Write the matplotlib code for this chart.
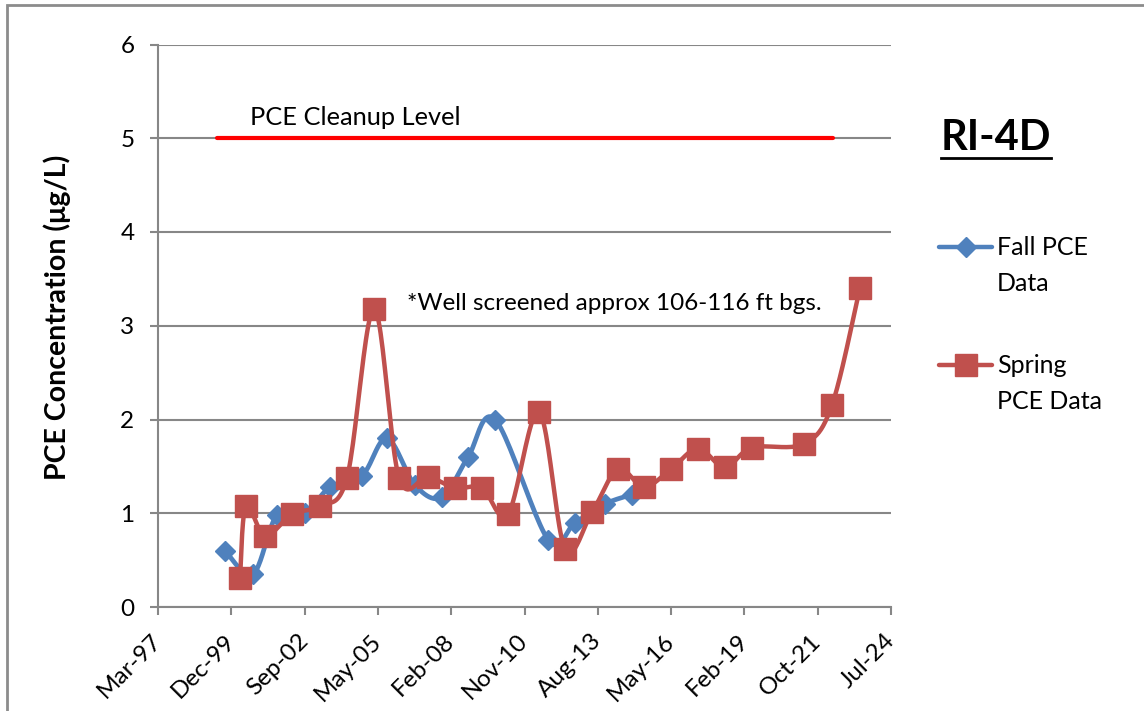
import numpy as np
import matplotlib.pyplot as plt
import matplotlib.dates as mdates
from matplotlib.lines import Line2D
from matplotlib.patches import Rectangle
from datetime import date, timedelta

plt.rcParams['font.family'] = ['Lato', 'DejaVu Sans']

# sampling results, RI-4D
fall_dates = ['1999-09-11', '2000-09-27', '2001-08-19', '2002-09-06', '2003-08-14',
              '2004-10-23', '2005-09-29', '2006-10-16', '2007-10-19', '2008-10-09',
              '2009-10-13', '2011-10-06', '2012-10-08', '2013-11-21', '2014-11-25']
fall_pce = [0.6, 0.35, 0.98, 1.0, 1.28, 1.4, 1.8, 1.3, 1.17, 1.6, 2.0, 0.72, 0.9, 1.1, 1.2]

spring_dates = ['2000-04-03', '2000-06-23', '2001-03-10', '2002-03-14', '2003-03-30',
                '2004-04-01', '2005-04-05', '2006-03-12', '2007-04-12', '2008-04-14',
                '2009-04-17', '2010-04-07', '2011-06-03', '2012-05-23', '2013-05-26',
                '2014-05-16', '2015-05-05', '2016-05-08', '2017-05-11', '2018-05-14',
                '2019-05-17', '2021-04-26', '2022-05-12', '2023-05-29']
spring_pce = [0.31, 1.08, 0.76, 0.99, 1.08, 1.38, 3.18, 1.38, 1.39, 1.27, 1.27, 0.99,
              2.08, 0.62, 1.01, 1.47, 1.28, 1.47, 1.69, 1.49, 1.70, 1.74, 2.15, 3.40]

cleanup_level = 5
cleanup_span = ['1999-05-26', '2022-05-28']

# excel-style date axis: 1000 day major unit
axis_start = date(1997, 3, 11)
axis_step = 1000
axis_n = 10

BLUE = '#4F81BD'
RED = '#C0504D'
GRID = '#878787'


def to_num(ds):
    return mdates.datestr2num(ds)


def smooth(ax, xs, ys, n=24):
    # catmull-rom through the points in screen space, like excel's smoothed line
    pts = ax.transData.transform(np.column_stack([xs, ys]))
    p = np.vstack([pts[0], pts, pts[-1]])
    out = []
    t = np.linspace(0, 1, n)[:, None]
    for i in range(1, len(p) - 2):
        p0, p1, p2, p3 = p[i - 1], p[i], p[i + 1], p[i + 2]
        c1 = p1 + (p2 - p0) / 6
        c2 = p2 - (p3 - p1) / 6
        seg = ((1 - t) ** 3) * p1 + 3 * ((1 - t) ** 2) * t * c1 + 3 * (1 - t) * t ** 2 * c2 + t ** 3 * p2
        out.append(seg if i == 1 else seg[1:])
    out = np.vstack(out)
    return ax.transData.inverted().transform(out).T


fig = plt.figure(figsize=(11.44, 7.11), dpi=100)
ax = fig.add_axes([158 / 1144, 1 - 607 / 711, (891 - 158) / 1144, (607 - 44.5) / 711])

ticks = [mdates.date2num(axis_start + timedelta(days=axis_step * k)) for k in range(axis_n + 1)]
ax.set_xlim(ticks[0], ticks[-1])
ax.set_ylim(0, 6)
ax.set_xticks(ticks)
ax.xaxis.set_major_formatter(mdates.DateFormatter('%b-%y'))
ax.set_yticks(range(0, 7))

ax.grid(axis='y', color=GRID, lw=1.5)
ax.set_axisbelow(True)
for s in ['top', 'right']:
    ax.spines[s].set_visible(False)
for s in ['left', 'bottom']:
    ax.spines[s].set_color(GRID)
    ax.spines[s].set_linewidth(1.5)
ax.tick_params(axis='both', color=GRID, width=1.5, length=6, labelsize=17.5, labelcolor='black')
ax.tick_params(axis='y', pad=11)
ax.tick_params(axis='x', pad=16)
for lab in ax.get_xticklabels():
    lab.set_rotation(45)
    lab.set_ha('right')
    lab.set_va('center')
    lab.set_rotation_mode('anchor')

ax.set_ylabel('PCE Concentration (μg/L)', fontsize=20.5, fontweight='bold')
ax.yaxis.set_label_coords(-0.119, 0.514)

# cleanup level
ax.plot(to_num(cleanup_span), [cleanup_level] * 2, color='#FF0000', lw=3, solid_capstyle='round', zorder=3)
ax.text(mdates.datestr2num('2000-08-17'), 5.1, 'PCE Cleanup Level', fontsize=18.3, va='bottom', ha='left')

fx, fy = smooth(ax, to_num(fall_dates), fall_pce)
ax.plot(fx, fy, color=BLUE, lw=3.4, zorder=4, solid_capstyle='round')
ax.plot(to_num(fall_dates), fall_pce, ls='none', marker='D', ms=10.5, color=BLUE, mec=BLUE, zorder=5)

sx, sy = smooth(ax, to_num(spring_dates), spring_pce)
ax.plot(sx, sy, color=RED, lw=3.2, zorder=6, solid_capstyle='round')
ax.plot(to_num(spring_dates), spring_pce, ls='none', marker='s', ms=15.5, color=RED, mec=RED, zorder=7)

ax.text(mdates.datestr2num('2006-06-30'), 3.24, '*Well screened approx 106-116 ft bgs.',
        fontsize=17.5, va='center', ha='left')

# well id and legend to the right of the plot
fig.text(941 / 1144, 1 - 138 / 711, 'RI-4D', fontsize=30, fontweight='bold', va='center', ha='left')
fig.add_artist(Line2D([941 / 1144, 1051 / 1144], [1 - 158 / 711] * 2, color='black', lw=2))

for yy, col, mk, msz, lines in [(247, BLUE, 'D', 10.5, 'Fall PCE\nData'),
                                (365, RED, 's', 15.5, 'Spring\nPCE Data')]:
    y = 1 - yy / 711
    fig.add_artist(Line2D([939 / 1144, 992 / 1144], [y, y], color=col, lw=3.2, solid_capstyle='round'))
    fig.add_artist(Line2D([965.5 / 1144], [y], marker=mk, ms=msz, color=col, ls='none'))
    fig.text(997 / 1144, y + 11 / 711, lines, fontsize=18, va='top', ha='left', linespacing=1.68)

# chart area outline
fig.add_artist(Rectangle((7 / 1144, -0.1), 1.2, 1 - 5 / 711 + 0.1, transform=fig.transFigure,
                         fill=False, ec='#8C8C8C', lw=2))

fig.savefig('out.png', dpi=100)
